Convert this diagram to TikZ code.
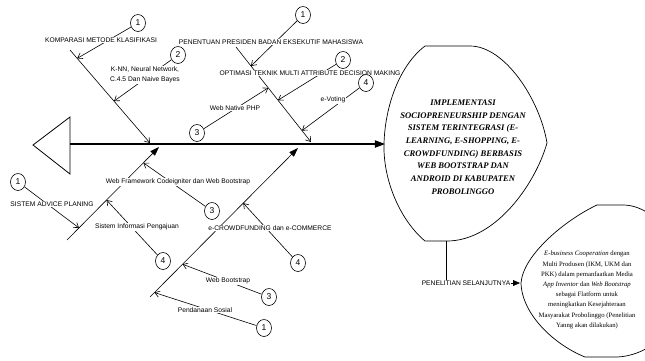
\documentclass[tikz,border=0pt]{standalone}
\usepackage{fontspec}
\setmainfont{Liberation Serif}
\setsansfont{Liberation Sans}
\usepackage{tikz}
\usetikzlibrary{positioning,arrows.meta,shapes.geometric,backgrounds}

\begin{document}
\begin{tikzpicture}[
        x=1pt, y=-1pt,
        lbl/.style={fill=white, inner sep=0.8pt, align=center, font=\sffamily\fontsize{6.7}{8}\selectfont},
        num/.style={ellipse, draw, fill=white, line width=0.6pt, minimum width=15pt, minimum height=17pt, inner sep=0pt, font=\sffamily\fontsize{8.5}{9}\selectfont},
        bone/.style={-{Straight Barb[length=1.6mm, width=2.2mm]}, line width=0.6pt},
        bigbone/.style={-{Triangle[length=3.2mm, width=2.2mm]}, line width=0.6pt},
        sub/.style={-{Straight Barb[length=1.6mm, width=2.2mm]}, line width=0.6pt},
        spine/.style={-{Triangle[length=3.6mm, width=2.6mm]}, line width=1.2pt},
        headline/.style={line width=0.7pt}
    ]
    \useasboundingbox (0,0) rectangle (645,360);

    % bone labels
    \node[lbl] (komparasi) at (101,40) {KOMPARASI METODE KLASIFIKASI};
    \node[lbl, font=\sffamily\fontsize{6.7}{10.5}\selectfont] (knn) at (145,75) {K-NN, Neural Network,\\C.4.5 Dan Naive Bayes};
    \node[lbl] (presiden) at (271,42) {PENENTUAN PRESIDEN BADAN EKSEKUTIF MAHASISWA};
    \node[lbl] (optimasi) at (310,73) {OPTIMASI TEKNIK MULTI ATTRIBUTE DECISION MAKING};
    \node[lbl] (php) at (235,108) {Web Native PHP};
    \node[lbl] (voting) at (333,100) {e-Voting};
    \node[lbl] (framework) at (178,182) {Web Framework Codeigniter dan Web Bootstrap};
    \node[lbl] (advice) at (52,204) {SISTEM ADVICE PLANING};
    \node[lbl] (pengajuan) at (137,227) {Sistem Informasi Pengajuan};
    \node[lbl] (crowd) at (270,228) {e-CROWDFUNDING dan e-COMMERCE};
    \node[lbl] (bootstrap) at (228,281) {Web Bootstrap};
    \node[lbl] (sosial) at (205,310) {Pendanaan Sosial};
    \node[lbl] (lanjut) at (466,283) {PENELITIAN SELANJUTNYA};

    % numbered circles
    \node[num] (nA1) at (138,23) {1};
    \node[num] (nA2) at (178,55) {2};
    \node[num] (nB1) at (303,15) {1};
    \node[num] (nB2) at (343,60) {2};
    \node[num] (nB3) at (197,133) {3};
    \node[num] (nB4) at (366,83) {4};
    \node[num] (nC1) at (18,182) {1};
    \node[num] (nC3) at (212,211) {3};
    \node[num] (nC4) at (163,261) {4};
    \node[num] (nD4) at (298,263) {4};
    \node[num] (nD3) at (269,297) {3};
    \node[num] (nD1) at (264,328) {1};

    % fish head and tail
    \draw[headline] (425,46) -- (470,46) .. controls (505,46) and (540,100) .. (547,143)
        .. controls (535,185) and (495,241) .. (447,241) -- (425,241)
        .. controls (400,220) and (383,180) .. (384,144)
        .. controls (385,105) and (400,65) .. (425,46) -- cycle;
    \node[align=center, font=\rmfamily\bfseries\itshape\fontsize{8.6}{12.7}\selectfont] (judul) at (463,147)
        {IMPLEMENTASI\\SOCIOPRENEURSHIP DENGAN\\SISTEM TERINTEGRASI (E-\\LEARNING, E-SHOPPING, E-\\CROWDFUNDING) BERBASIS\\WEB BOOTSTRAP DAN\\ANDROID DI KABUPATEN\\PROBOLINGGO};

    \draw[headline] (597,205) -- (623,205) .. controls (655,205) and (685,245) .. (690,283)
        .. controls (685,325) and (650,357) .. (615,357) -- (585,357)
        .. controls (555,345) and (522,315) .. (521,283)
        .. controls (523,255) and (565,220) .. (597,205) -- cycle;
    \node[align=center, font=\rmfamily\fontsize{6.7}{10.2}\selectfont] (saran) at (587,290)
        {\textit{E-business Cooperation} dengan\\Multi Produsen (IKM, UKM dan\\PKK) dalam pemanfaatkan Media\\\textit{App Inventor} dan \textit{Web Bootstrap}\\sebagai Flatform untuk\\meningkatkan Kesejahteraan\\Masyarakat Probolinggo (Penelitian\\Yanng akan dilakukan)};

    \draw[line width=0.8pt] (33,145) -- (70,117) -- (70,174) -- cycle;

    \coordinate (tail) at (70,144);
    \coordinate (headw) at (385,144);
    \coordinate (headb) at (446,241);
    \coordinate (nexthead) at (520,283);

    \coordinate (bAs) at (70,50);   \coordinate (bAe) at (150,143);
    \coordinate (bBs) at (236,47);  \coordinate (bBe) at (311,142);
    \coordinate (bCs) at (67,240);  \coordinate (bCe) at (159,147);
    \coordinate (bDs) at (150,297); \coordinate (bDe) at (298,148);

    \begin{scope}[on background layer]
        \draw[spine] (tail) -- (headw);
        \draw[-{Triangle[length=2.4mm, width=2mm]}, line width=0.6pt] (headb) |- (nexthead);

        \draw[bone] (bAs) -- coordinate[pos=.09] (tA1) coordinate[pos=.55] (tA2) (bAe);
        \draw[bone] (bBs) -- coordinate[pos=.2] (tB1) coordinate[pos=.56] (tB2)
            coordinate[pos=.43] (tB3) coordinate[pos=.88] (tB4) (bBe);
        \draw[bigbone] (bCs) -- coordinate[pos=.13] (tC1) coordinate[pos=.83] (tC3)
            coordinate[pos=.43] (tC4) (bCe);
        \draw[bigbone] (bDs) -- coordinate[pos=.63] (tD4) coordinate[pos=.22] (tD3)
            coordinate[pos=.03] (tD1) (bDe);

        \draw[sub] (nA1) -- (tA1);
        \draw[sub] (nA2) -- (tA2);
        \draw[sub] (nB1) -- (tB1);
        \draw[sub] (nB2) -- (tB2);
        \draw[sub] (nB3) -- (tB3);
        \draw[sub] (nB4) -- (tB4);
        \draw[sub] (nC1) -- (tC1);
        \draw[sub] (nC3) -- (tC3);
        \draw[sub] (nC4) -- (tC4);
        \draw[sub] (nD4) -- (tD4);
        \draw[sub] (nD3) -- (tD3);
        \draw[sub] (nD1) -- (tD1);
    \end{scope}

\end{tikzpicture}
\end{document}
